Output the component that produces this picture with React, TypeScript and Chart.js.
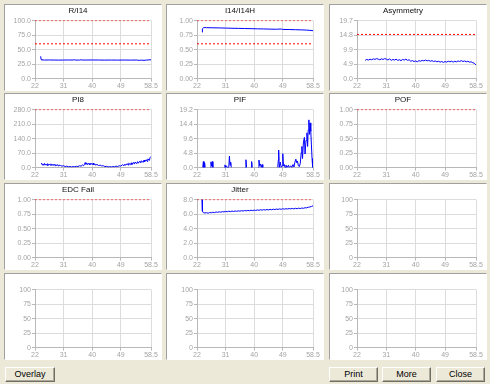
import React, { useEffect, useRef } from 'react';
import { Chart, registerables } from 'chart.js';

Chart.register(...registerables);

const FONT = '"Liberation Sans", Arial, sans-serif';

// shared x axis
const X_MIN = 22;
const X_MAX = 58.5;
const xTickValues = [22, 31, 40, 49, 58.5];
const xTickLabels = ['22', '31', '40', '49', '58.5'];

// y tick sets
const pctTicks = [0, 25, 50, 75, 100];
const pctLabels1 = ['0.0', '25.0', '50.0', '75.0', '100.0'];
const pctLabels0 = ['0', '25', '50', '75', '100'];
const unitTicks = [0, 0.25, 0.5, 0.75, 1];
const unitLabels = ['0.00', '0.25', '0.50', '0.75', '1.00'];
const asymTicks = [0, 4.925, 9.85, 14.775, 19.7];
const asymLabels = ['0.0', '4.9', '9.9', '14.8', '19.7'];
const pi8Ticks = [0, 70, 140, 210, 280];
const pi8Labels = ['0.0', '70.0', '140.0', '210.0', '280.0'];
const pifTicks = [0, 4.8, 9.6, 14.4, 19.2];
const pifLabels = ['0.0', '4.8', '9.6', '14.4', '19.2'];
const jitterTicks = [0, 2, 4, 6, 8];
const jitterLabels = ['0.0', '2.0', '4.0', '6.0', '8.0'];

type Pt = [number, number | null];

const ri14Series: Pt[] = [
  [23.8, 38.5], [23.9, 33], [24.1, 32.2], [25, 32], [26.5, 32.1], [28, 32], [29.5, 31.9],
  [31, 32], [32.5, 32.1], [34, 32], [34.3, 32.6], [34.6, 32], [36, 31.9], [36.5, 32.5],
  [36.8, 32], [38, 32], [40, 32.1], [42, 32], [44, 31.9], [46, 32], [48, 31.9], [50, 32],
  [52, 31.9], [54, 32], [54.8, 31.5], [55.5, 31.8], [56.3, 31.5], [57, 31.9], [57.8, 32.3], [58.5, 32.5],
];

const i14Series: Pt[] = [
  [23.6, 0.8], [23.7, 0.86], [24.0, 0.875], [24.5, 0.88], [25, 0.878], [27, 0.876], [29, 0.874],
  [31, 0.871], [33, 0.868], [35, 0.866], [37, 0.863], [39, 0.861], [41, 0.858], [43, 0.856],
  [45, 0.853], [47, 0.851], [48.5, 0.855], [49, 0.848], [51, 0.846], [53, 0.843], [55, 0.84],
  [56.5, 0.836], [57.5, 0.832], [58.5, 0.826],
];

const asymSeries: Pt[] = [
  [24.5, 6.2], [25, 6.5], [25.5, 6.3], [26, 6.6], [26.5, 6.4], [27, 6.7], [27.5, 6.5], [28, 6.8],
  [28.5, 6.6], [29, 6.4], [29.5, 6.7], [30, 6.5], [30.5, 6.8], [31, 6.6], [31.5, 6.3], [32, 6.7],
  [32.5, 6.2], [33, 6.5], [33.5, 6.3], [34, 6.6], [34.5, 6.2], [35, 6.4], [35.5, 6.1], [36, 6.5],
  [36.5, 6.3], [37, 6.6], [37.5, 6.2], [38, 6.4], [38.5, 5.9], [39, 6.1], [39.5, 5.8], [40, 6.0],
  [40.5, 5.7], [41, 6.1], [41.5, 5.9], [42, 6.2], [42.5, 6.0], [43, 6.3], [43.5, 6.0], [44, 6.2],
  [44.5, 5.9], [45, 6.1], [45.5, 5.8], [46, 6.0], [46.5, 5.7], [47, 5.9], [47.5, 5.6], [48, 5.8],
  [48.5, 5.5], [49, 5.8], [49.5, 5.6], [50, 5.9], [50.5, 5.7], [51, 5.9], [51.5, 5.6], [52, 5.9],
  [52.5, 5.7], [53, 6.0], [53.5, 5.8], [54, 6.1], [54.5, 5.8], [55, 6.0], [55.5, 5.7], [56, 5.9],
  [56.5, 5.6], [57, 5.7], [57.5, 5.4], [58, 5.2], [58.5, 4.6],
];

const pi8Series: Pt[] = [
  [24, 22], [24.3, 13], [24.5, 18], [24.8, 11], [25, 20], [25.3, 12], [25.5, 17], [25.8, 10],
  [26, 19], [26.3, 11], [26.5, 16], [26.8, 12], [27, 18], [27.3, 10], [27.5, 15], [27.8, 11],
  [28, 17], [28.3, 9], [28.5, 14], [28.8, 10], [29, 15], [29.3, 8], [29.5, 12], [30, 10],
  [30.5, 7], [31, 9], [31.5, 5], [32, 7], [32.5, 4], [33, 5], [33.5, 3], [34, 5], [34.5, 4],
  [35, 6], [35.5, 5], [36, 9], [36.5, 7], [37, 13], [37.3, 9], [37.5, 14], [37.8, 24], [38, 16],
  [38.3, 22], [38.5, 14], [38.8, 21], [39, 15], [39.3, 22], [39.5, 15], [39.8, 20], [40, 14],
  [40.3, 21], [40.5, 13], [40.8, 18], [41, 12], [41.5, 15], [42, 10], [42.5, 12], [43, 8],
  [43.5, 9], [44, 5], [44.5, 6], [45, 3], [45.5, 5], [46, 3], [46.5, 5], [47, 4], [47.5, 7],
  [48, 5], [48.5, 9], [49, 7], [49.5, 14], [50, 9], [50.3, 17], [50.5, 11], [51, 19], [51.3, 12],
  [51.5, 21], [52, 14], [52.3, 23], [52.5, 15], [53, 25], [53.3, 17], [53.5, 27], [54, 19],
  [54.3, 29], [54.5, 21], [55, 31], [55.3, 23], [55.5, 33], [56, 25], [56.3, 36], [56.5, 28],
  [57, 38], [57.3, 30], [57.5, 42], [58, 35], [58.2, 48], [58.5, 54],
];

const pifSeries: Pt[] = [
  [23.8, 0], [24, 2.0], [24.2, 0], [24.4, 1.6], [24.6, 0], [24.8, null],
  [26.2, 0], [26.4, 1.9], [26.6, 0.5], [26.8, 2.0], [27, 0], [27.2, null],
  [30.6, 0], [30.8, 0.9], [31, 0], [31.3, 0.6], [31.5, 0], [32.0, 0], [32.2, 3.8], [32.4, 0.8],
  [32.6, 1.8], [32.8, 0], [33, null],
  [37.2, 0], [37.4, 2.6], [37.6, 0], [37.8, null],
  [39.0, 0], [39.2, 2.0], [39.4, 0], [39.6, null],
  [41.3, 0], [41.5, 2.5], [41.7, 0.6], [42, 1.2], [42.2, 0], [42.5, 1], [42.7, 0], [42.9, null],
  [47.4, 0], [47.6, 2.5], [47.7, 5.8], [47.9, 0], [48.2, 1.8], [48.5, 0], [48.8, 0.6], [49.0, 4.6],
  [49.2, 0.5], [49.5, 1.0], [49.7, 0], [50, 0.8], [50.3, 0], [50.8, 0.8], [51, 0], [51.5, 0.6],
  [51.8, 0], [52.2, 1], [52.5, 0.2], [52.8, 1.8], [53.1, 2.8], [53.4, 1.6], [53.6, 2.2], [53.9, 0.6],
  [54.2, 0.3], [54.5, 1.5], [54.8, 5.0], [55.0, 7.0], [55.2, 3.0], [55.5, 8.5], [55.8, 10.0],
  [56.0, 4.5], [56.3, 9.0], [56.6, 11.5], [56.8, 7.0], [57.0, 12.5], [57.2, 15.8], [57.4, 11.0],
  [57.6, 14.8], [57.8, 12.0], [58.0, 7.5], [58.2, 3], [58.4, 0],
];

const jitterSeries: Pt[] = [
  [23.6, 8.0], [23.7, 6.4], [24, 6.2], [24.5, 6.15], [25, 6.2], [25.5, 6.12], [26, 6.22],
  [26.5, 6.18], [27, 6.26], [27.5, 6.2], [28, 6.3], [28.5, 6.24], [29, 6.32], [29.5, 6.26],
  [30, 6.34], [30.5, 6.3], [31, 6.38], [31.5, 6.32], [32, 6.4], [32.5, 6.34], [33, 6.42],
  [33.5, 6.36], [34, 6.44], [34.5, 6.38], [35, 6.45], [35.5, 6.4], [36, 6.47], [36.5, 6.42],
  [37, 6.5], [37.5, 6.44], [38, 6.52], [38.5, 6.46], [39, 6.54], [39.5, 6.48], [40, 6.55],
  [40.5, 6.5], [41, 6.58], [41.5, 6.52], [42, 6.6], [42.5, 6.54], [43, 6.62], [43.5, 6.56],
  [44, 6.63], [44.5, 6.58], [45, 6.65], [45.5, 6.6], [46, 6.68], [46.5, 6.62], [47, 6.7],
  [47.5, 6.64], [48, 6.72], [48.5, 6.66], [49, 6.74], [49.5, 6.68], [50, 6.75], [50.5, 6.7],
  [51, 6.77], [51.5, 6.72], [52, 6.78], [52.5, 6.72], [53, 6.8], [53.5, 6.74], [54, 6.82],
  [54.5, 6.76], [55, 6.84], [55.5, 6.8], [56, 6.88], [56.5, 6.86], [57, 6.95], [57.5, 6.98],
  [58, 7.05], [58.5, 7.15],
];

type Spec = {
  title: string;
  yTicks: number[];
  yLabels: string[];
  limits: number[];
  series?: Pt[];
};

const specs: Spec[] = [
  { title: 'R/I14', yTicks: pctTicks, yLabels: pctLabels1, limits: [60, 100], series: ri14Series },
  { title: 'I14/I14H', yTicks: unitTicks, yLabels: unitLabels, limits: [0.6, 1.0], series: i14Series },
  { title: 'Asymmetry', yTicks: asymTicks, yLabels: asymLabels, limits: [15], series: asymSeries },
  { title: 'PI8', yTicks: pi8Ticks, yLabels: pi8Labels, limits: [280], series: pi8Series },
  { title: 'PIF', yTicks: pifTicks, yLabels: pifLabels, limits: [], series: pifSeries },
  { title: 'POF', yTicks: unitTicks, yLabels: unitLabels, limits: [1] },
  { title: 'EDC Fail', yTicks: unitTicks, yLabels: unitLabels, limits: [1] },
  { title: 'Jitter', yTicks: jitterTicks, yLabels: jitterLabels, limits: [8], series: jitterSeries },
  { title: '', yTicks: pctTicks, yLabels: pctLabels0, limits: [] },
  { title: '', yTicks: pctTicks, yLabels: pctLabels0, limits: [] },
  { title: '', yTicks: pctTicks, yLabels: pctLabels0, limits: [] },
  { title: '', yTicks: pctTicks, yLabels: pctLabels0, limits: [] },
];

const colLefts = [4, 166, 329];
const colYWidth = [30, 30, 27];
const rowTops = [4, 93, 183, 273];
const PANEL_W = 158;
const PANEL_H = 87;

const BG = '#ECE9D8';
const GRID = '#dcdcdc';
const AXIS = '#b8b8b8';
const TICK_TEXT = '#a4a4a4';

function Panel({ spec, left, top, yWidth }: { spec: Spec; left: number; top: number; yWidth: number }) {
  const ref = useRef<HTMLCanvasElement>(null);
  useEffect(() => {
    if (!ref.current) return;
    const datasets: any[] = [];
    if (spec.series) {
      datasets.push({
        data: spec.series.map(p => ({ x: p[0], y: p[1] })),
        borderColor: '#0000ff',
        borderWidth: 1,
        pointRadius: 0,
        spanGaps: false,
        tension: 0,
      });
    }
    spec.limits.forEach(v => {
      datasets.push({
        data: [{ x: X_MIN, y: v }, { x: X_MAX, y: v }],
        borderColor: '#ff0000',
        borderWidth: 1,
        borderDash: [2, 2],
        pointRadius: 0,
      });
    });
    const yTicks = spec.yTicks;
    const chart = new Chart(ref.current, {
      type: 'line',
      data: { datasets },
      options: {
        animation: false,
        responsive: false,
        maintainAspectRatio: false,
        events: [],
        layout: { padding: { left: 0, right: 10, top: 0, bottom: 0 } },
        plugins: {
          legend: { display: false },
          tooltip: { enabled: false },
          title: {
            display: true,
            text: spec.title,
            color: '#111',
            font: { family: FONT, size: 8, weight: 'normal' as any },
            padding: { top: 1, bottom: 5 },
          },
        },
        scales: {
          x: {
            type: 'linear',
            min: X_MIN,
            max: X_MAX,
            afterBuildTicks: (s: any) => {
              s.ticks = xTickValues.map(v => ({ value: v }));
            },
            ticks: {
              autoSkip: false,
              maxRotation: 0,
              padding: 0,
              color: TICK_TEXT,
              font: { family: FONT, size: 7 },
              callback: (_v: any, i: number) => xTickLabels[i],
            },
            grid: { color: GRID, tickLength: 3, tickColor: AXIS },
            border: { color: AXIS },
          },
          y: {
            type: 'linear',
            min: yTicks[0],
            max: yTicks[yTicks.length - 1],
            afterBuildTicks: (s: any) => {
              s.ticks = yTicks.map(v => ({ value: v }));
            },
            afterFit: (s: any) => {
              s.width = yWidth;
            },
            ticks: {
              autoSkip: false,
              padding: 1,
              color: TICK_TEXT,
              font: { family: FONT, size: 7 },
              callback: (_v: any, i: number) => spec.yLabels[i],
            },
            grid: { color: GRID, tickLength: 3, tickColor: AXIS },
            border: { color: AXIS },
          },
        },
      } as any,
    });
    return () => chart.destroy();
  }, [spec, yWidth]);

  return (
    <div
      style={{
        position: 'absolute',
        left,
        top,
        width: PANEL_W,
        height: PANEL_H,
        boxSizing: 'border-box',
        background: '#fff',
        borderTop: '1px solid #a0a0a0',
        borderLeft: '1px solid #a0a0a0',
        borderRight: '1px solid #ffffff',
        borderBottom: '1px solid #ffffff',
      }}
    >
      <canvas
        ref={ref}
        width={PANEL_W - 2}
        height={PANEL_H - 2}
        style={{ position: 'absolute', left: 0, top: 0, width: PANEL_W - 2, height: PANEL_H - 2 }}
      />
    </div>
  );
}

const buttons = [
  { label: 'Overlay', left: 5, width: 50 },
  { label: 'Print', left: 329, width: 49 },
  { label: 'More', left: 382, width: 49 },
  { label: 'Close', left: 436, width: 49 },
];

function Btn({ label, left, width }: { label: string; left: number; width: number }) {
  return (
    <div
      style={{
        position: 'absolute',
        left,
        top: 367,
        width,
        height: 15,
        boxSizing: 'border-box',
        background: '#ECE9D8',
        borderTop: '1px solid #ffffff',
        borderLeft: '1px solid #ffffff',
        borderRight: '1px solid #716f64',
        borderBottom: '1px solid #716f64',
        boxShadow: 'inset -1px -1px 0 #aca899',
        font: `9px ${FONT}`,
        color: '#000',
        display: 'flex',
        alignItems: 'center',
        justifyContent: 'center',
        lineHeight: '13px',
      }}
    >
      {label}
    </div>
  );
}

export default function App() {
  return (
    <div
      style={{
        position: 'absolute',
        left: 0,
        top: 0,
        width: 490,
        height: 384,
        background: BG,
        overflow: 'hidden',
      }}
    >
      {specs.map((s, i) => {
        const col = i % 3;
        const row = Math.floor(i / 3);
        return (
          <Panel key={i} spec={s} left={colLefts[col]} top={rowTops[row]} yWidth={colYWidth[col]} />
        );
      })}
      {buttons.map(b => (
        <Btn key={b.label} label={b.label} left={b.left} width={b.width} />
      ))}
    </div>
  );
}
